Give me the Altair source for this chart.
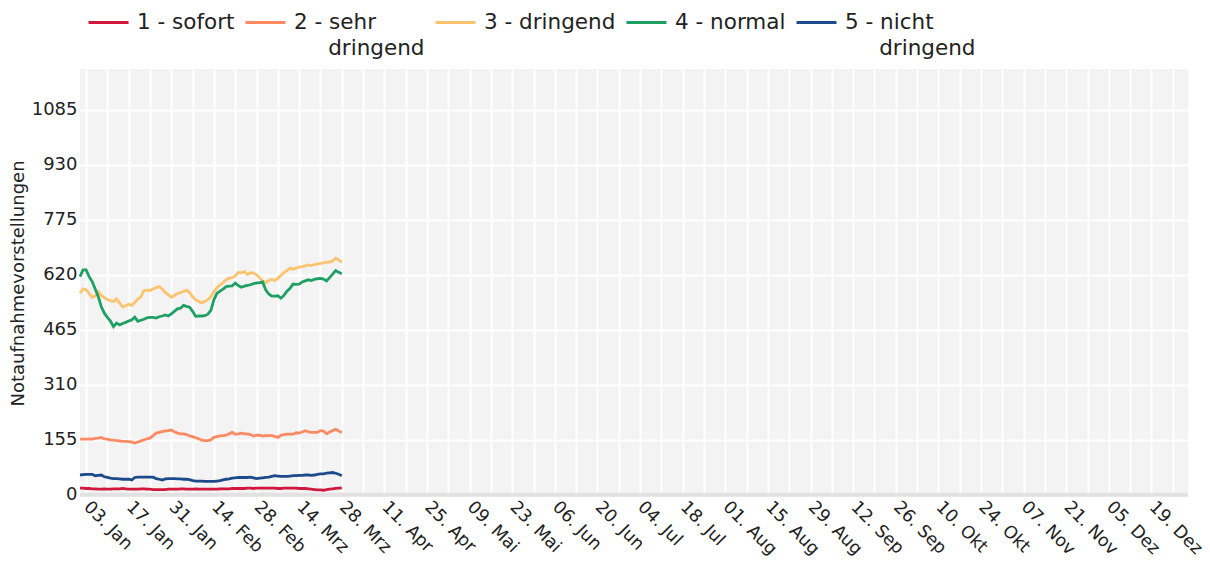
import altair as alt
import pandas as pd
from datetime import datetime, timezone

# ---- data (daily, 01.01.2022 - 28.03.2022) ----
dates = pd.date_range("2022-01-01", "2022-03-28", freq="D").strftime("%Y-%m-%d").tolist()

sofort = [19, 19, 18, 18, 17, 17, 16, 16, 17, 16, 16, 17, 17, 17, 18, 17, 16, 16, 16, 16,
          17, 17, 16, 16, 15, 15, 15, 15, 15, 16, 16, 16, 16, 17, 17, 16, 16, 16, 17, 16,
          16, 16, 16, 16, 16, 16, 17, 17, 17, 17, 18, 18, 18, 18, 18, 19, 19, 18, 19, 19,
          19, 19, 19, 19, 19, 18, 18, 19, 19, 19, 19, 19, 18, 18, 18, 17, 16, 15, 14, 14,
          13, 15, 16, 17, 18, 19, 20]

sehr_dringend = [157, 157, 157, 158, 157, 159, 160, 162, 158, 157, 155, 154, 153, 152, 151, 151, 150, 149, 146, 149,
                 152, 155, 158, 160, 167, 174, 176, 178, 180, 181, 183, 178, 174, 172, 172, 170, 166, 164, 161, 158,
                 154, 153, 153, 155, 162, 164, 166, 167, 168, 172, 176, 171, 172, 174, 172, 172, 170, 166, 168, 168,
                 166, 167, 167, 167, 165, 162, 168, 170, 171, 171, 171, 175, 174, 177, 181, 178, 176, 176, 176, 181,
                 180, 172, 177, 181, 185, 180, 176]

dringend = [568, 580, 578, 568, 556, 560, 572, 562, 556, 550, 547, 545, 552, 541, 530, 533, 537, 534, 542, 552,
            558, 576, 577, 576, 580, 584, 587, 580, 570, 564, 557, 562, 567, 570, 573, 577, 570, 558, 550, 545,
            541, 545, 550, 558, 573, 584, 591, 598, 606, 611, 612, 617, 627, 626, 629, 621, 626, 625, 620, 612,
            603, 598, 604, 607, 604, 610, 618, 626, 632, 639, 636, 639, 642, 643, 645, 648, 646, 649, 651, 652,
            654, 656, 656, 659, 667, 662, 655]

normal = [615, 634, 634, 615, 601, 580, 559, 530, 512, 500, 490, 474, 484, 479, 483, 486, 490, 493, 501, 489,
          492, 495, 499, 500, 500, 498, 502, 504, 507, 504, 510, 517, 524, 526, 534, 531, 529, 517, 503, 504,
          504, 505, 509, 520, 550, 568, 574, 580, 587, 588, 589, 597, 590, 585, 588, 590, 592, 595, 597, 598,
          600, 578, 566, 560, 560, 561, 554, 562, 574, 582, 594, 593, 594, 600, 603, 606, 604, 607, 609, 610,
          608, 603, 612, 622, 632, 627, 623]

nicht_dringend = [56, 57, 58, 58, 58, 54, 55, 56, 51, 49, 47, 46, 46, 45, 44, 44, 44, 42, 49, 50,
                  50, 50, 50, 50, 50, 46, 44, 42, 45, 46, 46, 46, 45, 45, 44, 44, 43, 40, 39, 39,
                  39, 38, 38, 38, 38, 39, 40, 42, 44, 45, 47, 48, 49, 49, 49, 49, 50, 48, 46, 47,
                  48, 49, 50, 52, 54, 53, 52, 52, 52, 53, 54, 54, 55, 55, 56, 56, 55, 56, 58, 59,
                  59, 61, 62, 63, 61, 58, 54]

NB = "\u00a0"
ZW = "\u200b"
series_names = ["1 - sofort|", "2 - sehr|" + ZW + NB * 5 + "dringend", "3 - dringend|", "4 - normal|",
                "5 - nicht|" + ZW + NB * 5 + "dringend"]
series_values = [sofort, sehr_dringend, dringend, normal, nicht_dringend]
series_colors = ["#d2173d", "#fc8a62", "#fdc46f", "#1fa063", "#1d4a8b"]

y_ticks = [0, 155, 310, 465, 620, 775, 930, 1085]
y_domain = [-6, 1200]
month_names = ["Jan", "Feb", "Mrz", "Apr", "Mai", "Jun", "Jul", "Aug", "Sep", "Okt", "Nov", "Dez"]

def ms(s):
    return int(datetime.strptime(s, "%Y-%m-%d").replace(tzinfo=timezone.utc).timestamp() * 1000)

week_ticks = [ms(d) for d in pd.date_range("2022-01-03", "2022-12-26", freq="7D").strftime("%Y-%m-%d")]
x_domain = [ms("2022-01-01"), ms("2022-12-31")]
first_tick = week_ticks[0]

rows = []
for name, vals in zip(series_names, series_values):
    for d, v in zip(dates, vals):
        rows.append({"date": d, "value": v, "series": name})
df = pd.DataFrame(rows)

FONT = "DejaVu Sans"
FS = 18
XFS = 17.5
LFS = 21.5
TXT = "#222222"
month_arr = "[" + ",".join("'%s'" % m for m in month_names) + "]"
label_expr = (
    f"(round((datum.value - {first_tick}) / 604800000) % 2 == 0) ? "
    f"utcFormat(datum.value, '%d') + '. ' + {month_arr}[utcmonth(datum.value)] : ''"
)

x_enc = alt.X(
    "date:T",
    scale=alt.Scale(type="utc", domain=x_domain, nice=False),
    axis=alt.Axis(
        values=week_ticks, title=None, labelExpr=label_expr, labelAngle=45,
        labelAlign="left", labelBaseline="middle", labelPadding=7,
        labelFontSize=XFS, labelFont=FONT, labelColor=TXT,
        grid=True, gridColor="white", gridWidth=2, domain=False, ticks=False,
        labelOverlap=False, labelBound=False, labelFlush=False,
    ),
)

y_enc = alt.Y(
    "value:Q",
    scale=alt.Scale(domain=y_domain, nice=False, zero=False),
    axis=alt.Axis(
        values=y_ticks, format="d", title="Notaufnahmevorstellungen", titleFontSize=FS,
        titleFont=FONT, titleFontWeight="normal", titleColor=TXT, titlePadding=4,
        labelFontSize=FS, labelFont=FONT, labelColor=TXT, labelPadding=3,
        grid=True, gridColor="white", gridWidth=2, domain=False, ticks=False,
    ),
)

lines = alt.Chart(df).mark_line(strokeWidth=2.8, interpolate="linear").encode(
    x=x_enc,
    y=y_enc,
    color=alt.Color(
        "series:N",
        scale=alt.Scale(domain=series_names, range=series_colors),
        legend=alt.Legend(
            orient="none", legendX=7, legendY=-68, direction="horizontal", columns=5,
            title=None, symbolType="stroke", symbolSize=1600, symbolStrokeWidth=2.8,
            labelFontSize=LFS, labelFont=FONT, labelColor=TXT, labelOffset=7,
            labelExpr="split(datum.label, '|')", columnPadding=4, labelBaseline="middle",
            labelLimit=300,
        ),
    ),
)

zero_df = pd.DataFrame({"value": [0]})
zero_line = alt.Chart(zero_df).mark_rule(color="#e2e2e2", strokeWidth=4).encode(y=y_enc)

chart = alt.layer(zero_line, lines).properties(
    width=1108, height=428,
    autosize=alt.AutoSizeParams(type="none"),
    padding={"left": 72, "top": 61, "right": 14, "bottom": 70},
    background="white",
).configure(
    style={"guide-label": {"lineHeight": 26}}
).configure_view(fill="#f3f3f3", strokeWidth=0)

chart.save("out.html", embed_options={"renderer": "svg", "actions": False})
